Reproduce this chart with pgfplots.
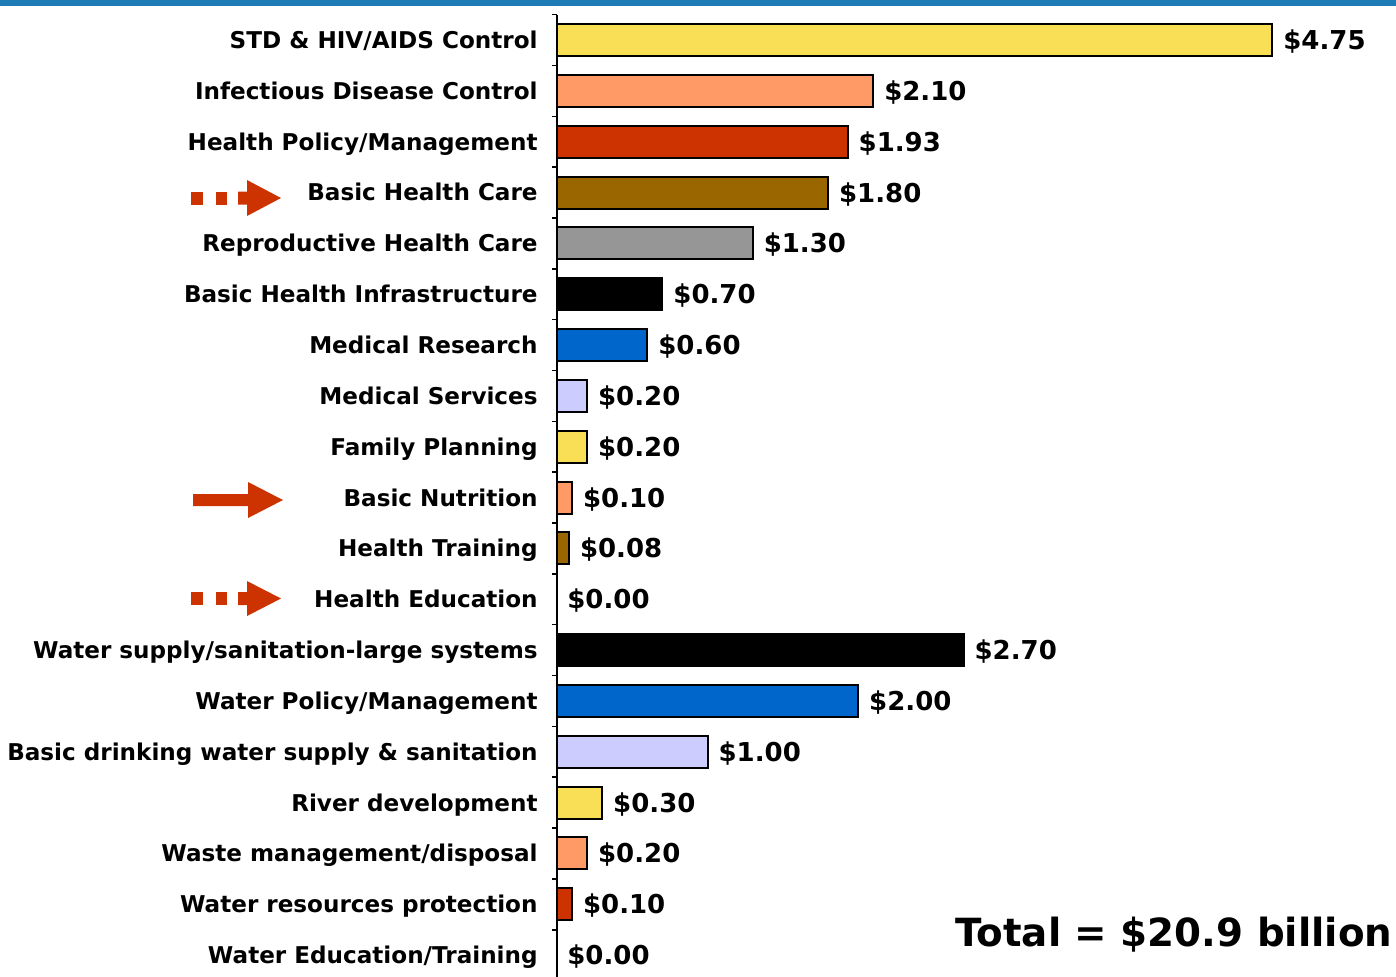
\documentclass[border=0pt]{standalone}
\usepackage{pgfplots}
\pgfplotsset{compat=1.18}
\usepackage{fontspec}
\setmainfont{DejaVu Sans}
\definecolor{cband}{HTML}{1F7BB6}
\definecolor{cyel}{HTML}{F8DF55}
\definecolor{corg}{HTML}{FF9966}
\definecolor{cred}{HTML}{CC3300}
\definecolor{cbrn}{HTML}{996600}
\definecolor{cgry}{HTML}{969696}
\definecolor{cblu}{HTML}{0066CC}
\definecolor{clav}{HTML}{CCCCFF}
\definecolor{carrow}{HTML}{CC3300}
\begin{document}
\begin{tikzpicture}
\useasboundingbox (0,0) rectangle (698pt,-488pt);
\fill[cband] (0,0) rectangle (698pt,-3pt);
\begin{axis}[
  at={(278.5pt,-7.3pt)}, anchor=north west,
  x=75.3pt, y=25.42pt, y dir=reverse,
  xmin=0, xmax=5.5, ymin=-0.5, ymax=18.5,
  axis y line=left, axis x line=none,
  axis line style={-, line width=0.75pt},
  ytick={0,...,18},
  minor ytick={-0.5,0.5,...,18.5},
  major tick length=0pt, minor tick length=2.5pt, tick align=outside,
  tick style={black, line width=0.75pt},
  yticklabels={STD \& HIV/AIDS Control, Infectious Disease Control, Health Policy/Management, Basic Health Care, Reproductive Health Care, Basic Health Infrastructure, Medical Research, Medical Services, Family Planning, Basic Nutrition, Health Training, Health Education, Water supply/sanitation-large systems, Water Policy/Management, Basic drinking water supply \& sanitation, River development, Waste management/disposal, Water resources protection, Water Education/Training},
  yticklabel style={font=\fontsize{11.55}{14}\selectfont\bfseries, anchor=east, inner sep=0pt, xshift=-9.5pt, text height=8.4pt, text depth=0pt},
  xbar, bar width=16pt, bar shift=0pt,
  point meta=explicit symbolic,
  nodes near coords={\$\pgfplotspointmeta},
  every node near coord/.append style={font=\fontsize{13}{15}\selectfont\bfseries, anchor=west, inner sep=0pt, xshift=5pt, text height=9.5pt, text depth=0pt, text=black},
  clip=false,
]
\addplot[fill=cyel, draw=black, line width=1pt] coordinates {(4.75,0) [4.75] (0.20,8) [0.20] (0.30,15) [0.30]};
\addplot[fill=corg, draw=black, line width=1pt] coordinates {(2.10,1) [2.10] (0.10,9) [0.10] (0.20,16) [0.20]};
\addplot[fill=cred, draw=black, line width=1pt] coordinates {(1.93,2) [1.93] (0.10,17) [0.10]};
\addplot[fill=cbrn, draw=black, line width=1pt] coordinates {(1.80,3) [1.80] (0.08,10) [0.08]};
\addplot[fill=cgry, draw=black, line width=1pt] coordinates {(1.30,4) [1.30]};
\addplot[fill=black, draw=black, line width=1pt] coordinates {(0.70,5) [0.70] (2.70,12) [2.70]};
\addplot[fill=cblu, draw=black, line width=1pt] coordinates {(0.60,6) [0.60] (2.00,13) [2.00]};
\addplot[fill=clav, draw=black, line width=1pt] coordinates {(0.20,7) [0.20] (1.00,14) [1.00]};
\addplot[fill=none, draw=none] coordinates {(0,11) [0.00] (0,18) [0.00]};
\end{axis}
\begin{scope}[x=0.5pt,y=-0.5pt]
% dotted arrow, Basic Health Care
\fill[carrow] (191,191.5) rectangle (203,204.5);
\fill[carrow] (216,191.5) rectangle (227,204.5);
\fill[carrow] (238,191.5) -- (247,191.5) -- (247,180) -- (281,198) -- (247,216) -- (247,204.5) -- (238,204.5) -- cycle;
% solid arrow, Basic Nutrition
\fill[carrow] (193,494) -- (248,494) -- (248,482) -- (283,500) -- (248,518) -- (248,506) -- (193,506) -- cycle;
% dotted arrow, Health Education
\fill[carrow] (191,592) rectangle (203,605);
\fill[carrow] (216,592) rectangle (227,605);
\fill[carrow] (238,592) -- (247,592) -- (247,581) -- (281,598.5) -- (247,616) -- (247,605) -- (238,605) -- cycle;
\end{scope}
\node[anchor=base west, inner sep=0pt, font=\fontsize{19.4}{22}\selectfont\bfseries] at (477.5pt,-473pt) {Total = \$20.9 billion};
\end{tikzpicture}
\end{document}
